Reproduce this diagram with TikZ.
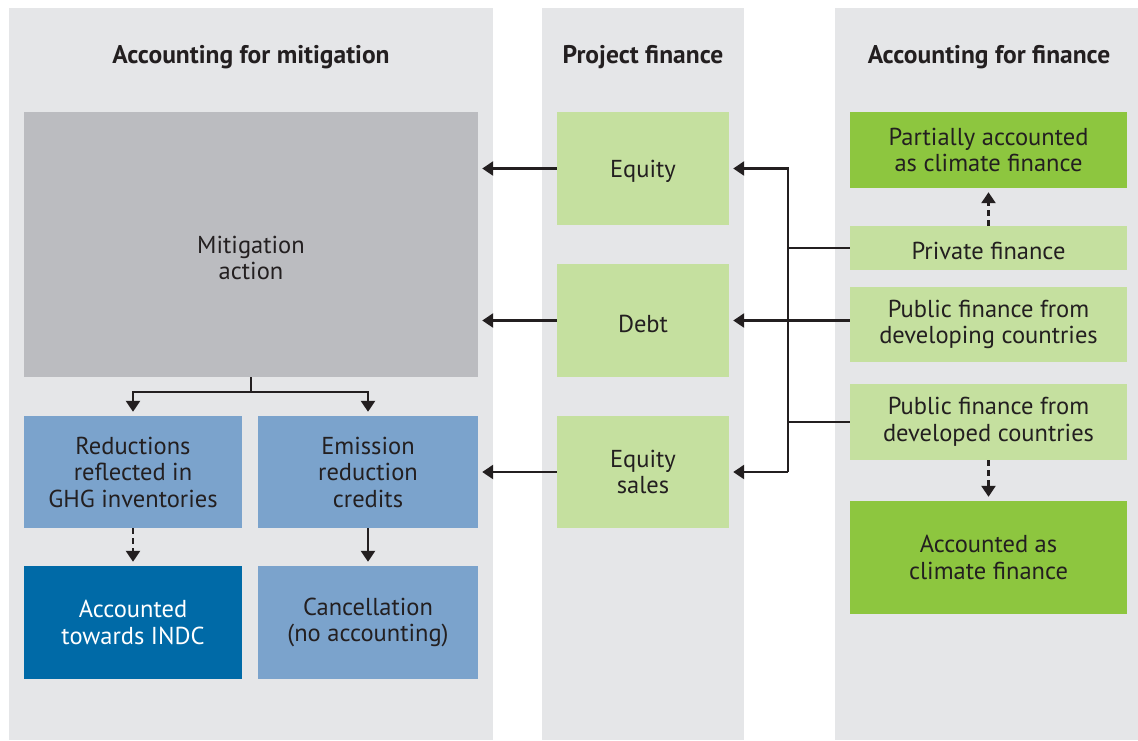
\documentclass[tikz,border=0pt]{standalone}
\usepackage{fontspec}
\setmainfont{PT Sans}
\usetikzlibrary{arrows.meta}
\definecolor{panelgray}{HTML}{E5E6E8}
\definecolor{boxgray}{HTML}{BBBCC0}
\definecolor{palegreen}{HTML}{C5E09F}
\definecolor{leafgreen}{HTML}{8DC63F}
\definecolor{skyblue}{HTML}{7BA3CC}
\definecolor{deepblue}{HTML}{006AA7}
\definecolor{inkdark}{HTML}{231F20}
\begin{document}
\begin{tikzpicture}[x=1pt,y=-1pt,
  every node/.style={text=inkdark, font=\fontsize{24.5}{26.5}\selectfont},
  box/.style={rectangle, inner sep=0pt, align=center,
    execute at begin node={\rule{0pt}{24pt}}},
  title/.style={font=\fontsize{25.5}{28}\selectfont\bfseries},
  arr/.style={draw=inkdark, line width=2.4pt, -{Triangle[width=14pt,length=11pt]}, shorten >=4pt},
  darr/.style={arr, dash pattern=on 6pt off 4pt},
  link/.style={draw=inkdark, line width=2.4pt}]
\useasboundingbox (0,0) rectangle (1138,740);
% columns
\fill[panelgray] (9,8) rectangle (493,740);
\fill[panelgray] (542,8) rectangle (744,740);
\fill[panelgray] (835,8) rectangle (1138,740);
\node[title] (ttlmit) at (251,57) {Accounting for mitigation};
\node[title] (ttlproj) at (643,57) {Project finance};
\node[title] (ttlfin) at (989,57) {Accounting for finance};

% accounting for mitigation
\node[box, fill=boxgray, minimum width=454, minimum height=265] (mitig) at (251,244.5) {};
\node[align=center] (mitigtxt) at (251,258) {Mitigation\\action};
\node[box, fill=skyblue, minimum width=218, minimum height=112] (reduc) at (133,472) {Reductions\\reflected in\\GHG inventories};
\node[box, fill=skyblue, minimum width=220, minimum height=112] (emiss) at (368,472) {Emission\\reduction\\credits};
\node[box, fill=deepblue, minimum width=218, minimum height=113, text=white] (indc) at (133,622.5) {Accounted\\towards INDC};
\node[box, fill=skyblue, minimum width=220, minimum height=113] (cancel) at (368,622.5) {Cancellation\\(no accounting)};

% project finance
\node[box, fill=palegreen, minimum width=172, minimum height=113] (equity) at (643,168.5) {Equity};
\node[box, fill=palegreen, minimum width=172, minimum height=113] (debt) at (643,320.5) {Debt};
\node[box, fill=palegreen, minimum width=172, minimum height=112] (eqsales) at (643,472) {Equity\\sales};

% accounting for finance
\node[box, fill=leafgreen, minimum width=277, minimum height=76] (partial) at (988.5,150) {Partially accounted\\as climate finance};
\node[box, fill=palegreen, minimum width=277, minimum height=44] (private) at (988.5,248) {Private finance};
\node[box, fill=palegreen, minimum width=277, minimum height=75] (pubdev) at (988.5,324.5) {Public finance from\\developing countries};
\node[box, fill=palegreen, minimum width=277, minimum height=76] (pubdvd) at (988.5,422) {Public finance from\\developed countries};
\node[box, fill=leafgreen, minimum width=277, minimum height=113] (accfin) at (988.5,557.5) {Accounted as\\climate finance};

% connectors
\draw[arr] (mitig.south) -- ++(0,15) -| (reduc.north);
\draw[arr] (mitig.south) -- ++(0,15) -| (emiss.north);
\draw[darr] (reduc.south) -- (indc.north);
\draw[arr] (emiss.south) -- (cancel.north);
\draw[arr] (equity.west) -- (mitig.east |- equity.west);
\draw[arr] (debt.west) -- (mitig.east |- debt.west);
\draw[arr] (eqsales.west) -- (mitig.east |- eqsales.west);
\coordinate (bus) at (788,0);
\draw[arr] (bus |- eqsales.east) -- (bus |- equity.east) -- (equity.east);
\draw[arr] (bus |- eqsales.east) -- (eqsales.east);
\draw[arr] (pubdev.west |- debt.east) -- (debt.east);
\draw[link] (private.west) -- (bus |- private.west);
\draw[link] (pubdvd.west) -- (bus |- pubdvd.west);
\draw[darr] (private.north) -- (partial.south);
\draw[darr] (pubdvd.south) -- (accfin.north);
\end{tikzpicture}
\end{document}
